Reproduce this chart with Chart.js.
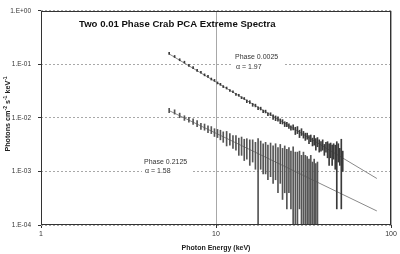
<!DOCTYPE html>
<html><head><meta charset="utf-8">
<script src="https://cdn.jsdelivr.net/npm/chart.js@4.4.1/dist/chart.umd.min.js"></script>
<style>html,body{margin:0;padding:0;background:#fff}#wrap{width:400px;height:254px;position:relative}</style>
</head><body><div id="wrap"><canvas id="c"></canvas></div>
<script>
const energy = [5.4,5.8,6.2,6.6,7.0,7.4,7.8,8.2,8.6,9.0,
 9.4,9.8,10.2,10.6,11.0,11.5,12.0,12.5,13.0,13.5,
 14.0,14.5,15.0,15.6,16.2,16.8,17.4,18.0,18.6,19.2,
 19.8,20.5,21.2,21.9,22.6,23.3,24.0,24.7,25.4,26.1,
 26.8,27.6,28.4,29.2,30.0,30.8,31.6,32.4,33.2,34.0,
 34.8,35.6,36.4,37.2,38.0,38.9,39.8,40.7,41.6,42.5,
 43.4,44.3,45.2,46.1,47.0,48.0,49.0,50.0,51.0,52.0,
 53.0];
const upperFlux = [0.157,0.137,0.119,0.107,0.0935,0.0850,0.0755,0.0695,0.0622,0.0580,
 0.0520,0.0490,0.0445,0.0420,0.0380,0.0358,0.0322,0.0305,0.0272,0.0262,
 0.0236,0.0228,0.0205,0.0198,0.0176,0.0171,0.0152,0.0150,0.0133,0.0132,
 0.0117,0.0118,0.0104,0.0099,0.0096,0.0087,0.0085,0.0077,0.0076,0.0071,
 0.0065,0.0067,0.0058,0.0060,0.0051,0.0055,0.0049,0.0045,0.0046,0.0040,
 0.0042,0.0036,0.0039,0.0033,0.0036,0.0031,0.0030,0.0032,0.0026,0.0029,
 0.0027,0.0023,0.0026,0.0022,0.0025,0.0021,0.0019,0.0024,0.0020,0.0021,
 0.0017];
const upperErr = [0.0024,0.0021,0.0018,0.0016,0.0015,0.0013,0.0012,0.0011,0.0010,0.0009,
 0.0009,0.0008,0.0013,0.0013,0.0011,0.0011,0.0010,0.0009,0.0008,0.0008,
 0.0007,0.0007,0.0012,0.0012,0.0011,0.0010,0.0009,0.0009,0.0008,0.0008,
 0.0007,0.0007,0.0010,0.0010,0.0009,0.0009,0.0008,0.0008,0.0007,0.0007,
 0.0006,0.0007,0.0009,0.0009,0.0008,0.0008,0.0007,0.0007,0.0006,0.0007,
 0.0006,0.0006,0.0008,0.0008,0.0007,0.0008,0.0006,0.0007,0.0006,0.0006,
 0.0009,0.0010,0.0008,0.0009,0.0008,0.0010,0.0017,0.0009,0.0007,0.0019,
 0.0007];
const lowerFlux = [0.0138,0.0130,0.0112,0.0100,0.0093,0.0086,0.0079,0.0070,0.0068,0.0062,
 0.0060,0.0054,0.0052,0.0049,0.0045,0.0043,0.0041,0.0037,0.0036,0.0031,
 0.0032,0.0028,0.0029,0.0026,0.0027,0.0023,0.0020,0.0024,0.0021,0.0022,
 0.0019,0.0021,0.0018,0.0020,0.0016,0.0019,0.0015,0.0017,0.0014,0.0016,
 0.0013,0.0014,0.0012,0.0011,0.0013,0.0010,0.0012,0.0010,0.0009,0.0008,
 0.0010,0.0007,0.0008,0.0006,0.0007];
const lowerErr = [0.0013,0.0012,0.0011,0.0010,0.0010,0.0010,0.0010,0.0009,0.0009,0.0009,
 0.0009,0.0009,0.0009,0.0010,0.0010,0.0013,0.0010,0.0010,0.0011,0.0011,
 0.0012,0.0012,0.0012,0.0013,0.0012,0.0012,0.0021,0.0013,0.0012,0.0013,
 0.0012,0.0013,0.0012,0.0013,0.0012,0.0013,0.0012,0.0013,0.0012,0.0012,
 0.0011,0.0015,0.0011,0.0012,0.0011,0.0010,0.0011,0.0010,0.0010,0.0009,
 0.0010,0.0008,0.0009,0.0008,0.0008];
const fitEnergy = [5.4, 83];
const upperFit = [0.157, 0.00074];
const lowerFit = [0.0137, 0.000183];
const xTickValues = [1, 10, 100];
const xTickLabels = ['1', '10', '100'];
const yTickValues = [1e-4, 1e-3, 1e-2, 1e-1, 1];
const yTickLabels = ['1.E-04', '1.E-03', '1.E-02', '1.E-01', '1.E+00'];
const titleText = 'Two 0.01 Phase Crab PCA Extreme Spectra';
const xTitle = 'Photon Energy (keV)';
const upperLabel = ['Phase 0.0025', 'α = 1.97'];
const lowerLabel = ['Phase 0.2125', 'α = 1.58'];

const FONT = '"Liberation Sans", Arial, sans-serif';

function errBars(flux, err) {
  return flux.map((f, i) => ({x: energy[i], y: [Math.max(f - err[i], 1e-7), f + err[i]]}));
}
function fitLine(vals) {
  return fitEnergy.map((e, i) => ({x: e, y: vals[i]}));
}

const annot = {
  id: 'annot',
  beforeDatasetsDraw(chart) {
    const ctx = chart.ctx;
    ctx.save();
    ctx.fillStyle = '#fff';
    ctx.fillRect(233, 51, 51, 21);
    ctx.fillRect(142, 156, 51, 20);
    ctx.restore();
  },
  afterDraw(chart) {
    const ctx = chart.ctx, a = chart.chartArea;
    ctx.save();
    ctx.strokeStyle = '#333';
    ctx.lineWidth = 1;
    ctx.strokeRect(Math.round(a.left) + 0.5, Math.round(a.top) + 0.5,
      Math.round(a.right - a.left) - 1, Math.round(a.bottom - a.top) - 1);
    ctx.fillStyle = '#111';
    ctx.textBaseline = 'middle';
    ctx.textAlign = 'left';
    ctx.font = 'bold 9.6px ' + FONT;
    ctx.fillText(titleText, 79, 24);
    ctx.fillStyle = '#333';
    ctx.font = '7px ' + FONT;
    ctx.fillText(upperLabel[0], 235, 57);
    ctx.fillText(upperLabel[1], 236, 67);
    ctx.fillText(lowerLabel[0], 144, 162);
    ctx.fillText(lowerLabel[1], 145, 171);
    ctx.fillStyle = '#222';
    ctx.textAlign = 'center';
    ctx.font = 'bold 7px ' + FONT;
    ctx.fillText(xTitle, 216, 248);
    const parts = [['Photons cm', false], ['-2', true], [' s', false], ['-1', true], [' keV', false], ['-1', true]];
    const big = 'bold 7.2px ' + FONT, small = 'bold 5px ' + FONT;
    let total = 0;
    parts.forEach(p => { ctx.font = p[1] ? small : big; total += ctx.measureText(p[0]).width; });
    ctx.translate(8, 114);
    ctx.rotate(-Math.PI / 2);
    ctx.textAlign = 'left';
    let xx = -total / 2;
    parts.forEach(p => {
      ctx.font = p[1] ? small : big;
      ctx.fillText(p[0], xx, p[1] ? -2.5 : 0);
      xx += ctx.measureText(p[0]).width;
    });
    ctx.restore();
  }
};

new Chart(document.getElementById('c'), {
  type: 'bar',
  data: {
    datasets: [
      {type: 'bar', data: errBars(upperFlux, upperErr), backgroundColor: '#3a3a3a', barThickness: 1, minBarLength: 2, grouped: false},
      {type: 'bar', data: errBars(lowerFlux, lowerErr), backgroundColor: '#555', barThickness: 1, minBarLength: 2, grouped: false},
      {type: 'line', data: fitLine(upperFit), borderColor: '#8a8a8a', borderWidth: 1, pointRadius: 0, fill: false},
      {type: 'line', data: fitLine(lowerFit), borderColor: '#8a8a8a', borderWidth: 1, pointRadius: 0, fill: false}
    ]
  },
  options: {
    responsive: true,
    maintainAspectRatio: false,
    animation: false,
    layout: {padding: {left: 0, right: 9, top: 6, bottom: 0}},
    plugins: {legend: {display: false}, tooltip: {enabled: false}, title: {display: false}},
    scales: {
      x: {
        type: 'logarithmic', min: 1, max: 100, offset: false,
        afterBuildTicks: s => { s.ticks = xTickValues.map(v => ({value: v})); },
        afterFit: s => { s.height = 29; },
        ticks: {autoSkip: false, maxRotation: 0, padding: 2, color: '#333', font: {family: FONT, size: 7},
          callback: (v, i) => xTickLabels[i]},
        grid: {offset: false, color: '#a8a8a8', lineWidth: 1, tickLength: 3, tickColor: '#333'},
        border: {display: false}
      },
      y: {
        type: 'logarithmic', min: 1e-4, max: 1,
        afterBuildTicks: s => { s.ticks = yTickValues.map(v => ({value: v})); },
        afterFit: s => { s.width = 41; },
        ticks: {autoSkip: false, padding: 7, color: '#333', font: {family: FONT, size: 6.5},
          callback: (v, i) => yTickLabels[i]},
        grid: {color: '#a8a8a8', lineWidth: 1, tickLength: 3, tickColor: '#333'},
        border: {display: false, dash: [2, 2]}
      }
    }
  },
  plugins: [annot]
});
</script>
</body></html>
